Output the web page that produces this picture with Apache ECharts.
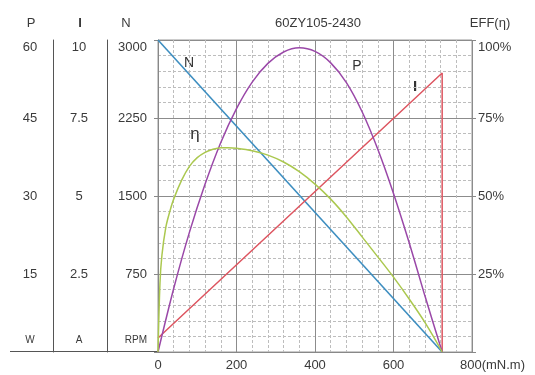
<!DOCTYPE html>
<html>
<head>
<meta charset="utf-8">
<script src="https://cdn.jsdelivr.net/npm/echarts@6/dist/echarts.min.js"></script>
<style>html,body{margin:0;padding:0;background:#fff}#c{width:535px;height:375px}</style>
</head>
<body>
<div id="c"></div>
<script>
// ---- data ----
const xTicks = [0, 200, 400, 600, 800];            // torque, mN.m
const nTicks = [750, 1500, 2250, 3000];            // RPM
const iTicks = [2.5, 5, 7.5, 10];                  // A
const pTicks = [15, 30, 45, 60];                   // W
const effTicks = [25, 50, 75, 100];                // %

const speedTorque = [0, 724];
const speedN = [3000, 0];

const currentTorque = [0, 724, 724];
const currentI = [0.45, 8.94, 0];

const powerTorque = [0, 40, 80, 120, 160, 200, 240, 280, 320, 360, 400, 440, 480, 520, 560, 600, 640, 680, 724];
const powerP = [0, 12.2, 23, 32.3, 40.3, 46.8, 51.9, 55.5, 57.7, 58.5, 57.8, 55.6, 51.8, 46.2, 39, 30.5, 21, 10.8, 0];

const effTorque = [0, 5, 10, 20, 30, 40, 60, 80, 100, 120, 140, 160, 180, 200, 240, 280, 320, 360, 400, 440, 480, 520, 560, 600, 640, 680, 724];
const effV = [0, 22, 31, 40, 45, 49, 55, 59.5, 62.3, 64, 65, 65.5, 65.5, 65.3, 64.5, 63.1, 60.9, 57.8, 53.8, 49, 43.3, 36.9, 30.5, 24, 17, 9.5, 0];

const zip = (a, b) => a.map((v, i) => [v, b[i]]);

const FONT = 'Liberation Sans, Arial, sans-serif';
const TXT = '#3a3a3a';
const chart = echarts.init(document.getElementById('c'), null, {renderer: 'canvas'});

function yFmt(max, unit) {
  return function (v) {
    if (v === 0) return unit ? '{u|' + unit + '}' : '';
    if (v === max) return '{t|' + v + '}';
    return '{n|' + v + '}';
  };
}
const richY = {
  n: {fontSize: 13, color: TXT, fontFamily: FONT},
  t: {fontSize: 13, color: TXT, fontFamily: FONT, padding: [14, 0, 0, 0]},
  u: {fontSize: 10, color: TXT, fontFamily: FONT, padding: [0, 0, 24, 0]}
};

const option = {
  animation: false,
  backgroundColor: '#fff',
  grid: {left: 158, right: 63, top: 40, bottom: 23, show: true, borderColor: '#999', borderWidth: 1},
  xAxis: [
    {type: 'value', min: 0, max: 800, interval: 40, position: 'bottom',
      axisLabel: {show: false}, axisTick: {show: false}, axisLine: {show: false},
      splitLine: {show: true, lineStyle: {color: '#bdbdbd', type: [3, 2], width: 1}}},
    {type: 'value', min: 0, max: 800, interval: 200, position: 'bottom',
      axisLine: {show: true, lineStyle: {color: '#888'}}, axisTick: {show: false},
      splitLine: {show: true, lineStyle: {color: '#8c8c8c', width: 1}},
      axisLabel: {margin: 7, color: TXT, fontSize: 13, fontFamily: FONT,
        formatter: v => v === 800 ? '{a|800}{b|(mN.m)}' : '{n|' + v + '}',
        rich: {n: {fontSize: 13, color: TXT, fontFamily: FONT},
          a: {fontSize: 13, color: TXT, fontFamily: FONT, padding: [0, 0, 0, 41]},
          b: {fontSize: 13, color: TXT, fontFamily: FONT}}}}
  ],
  yAxis: [
    {type: 'value', min: 0, max: 3000, interval: 150, position: 'left',
      axisLabel: {show: false}, axisTick: {show: false}, axisLine: {show: false},
      splitLine: {show: true, lineStyle: {color: '#bdbdbd', type: [3, 2], width: 1}}},
    {type: 'value', min: 0, max: 3000, interval: 750, position: 'left', offset: 0,
      axisLine: {show: true, lineStyle: {color: '#888'}},
      axisTick: {show: true, length: 4, lineStyle: {color: '#888'}},
      splitLine: {show: true, lineStyle: {color: '#8c8c8c', width: 1}},
      axisLabel: {margin: 11, align: 'right', formatter: yFmt(3000, 'RPM'), rich: richY}},
    {type: 'value', min: 0, max: 10, interval: 2.5, position: 'left', offset: 51,
      axisLine: {show: true, lineStyle: {color: '#555'}}, axisTick: {show: false},
      splitLine: {show: false},
      axisLabel: {margin: 28, align: 'center', formatter: yFmt(10, 'A'), rich: richY}},
    {type: 'value', min: 0, max: 60, interval: 15, position: 'left', offset: 105,
      axisLine: {show: true, lineStyle: {color: '#555'}}, axisTick: {show: false},
      splitLine: {show: false},
      axisLabel: {margin: 23, align: 'center', formatter: yFmt(60, 'W'), rich: richY}},
    {type: 'value', min: 0, max: 100, interval: 25, position: 'right',
      axisLine: {show: false},
      axisTick: {show: true, length: 4, lineStyle: {color: '#888'}},
      splitLine: {show: false},
      axisLabel: {margin: 6, align: 'left',
        formatter: v => v === 0 ? '' : (v === 100 ? '{t|' + v + '%}' : '{n|' + v + '%}'), rich: richY}}
  ],
  series: [
    {name: 'N', type: 'line', xAxisIndex: 1, yAxisIndex: 1, data: zip(speedTorque, speedN),
      symbol: 'none', lineStyle: {color: '#3d8ec0', width: 1.6}, z: 5},
    {name: 'I', type: 'line', xAxisIndex: 1, yAxisIndex: 2, data: zip(currentTorque, currentI),
      symbol: 'none', lineStyle: {color: '#dd5560', width: 1.5}, z: 5},
    {name: 'P', type: 'line', xAxisIndex: 1, yAxisIndex: 3, data: zip(powerTorque, powerP),
      symbol: 'none', smooth: 0.3, lineStyle: {color: '#9a48a8', width: 1.5}, z: 5},
    {name: 'EFF', type: 'line', xAxisIndex: 1, yAxisIndex: 4, data: zip(effTorque, effV),
      symbol: 'none', smooth: 0.3, lineStyle: {color: '#abc84f', width: 1.5}, z: 5}
  ],
  graphic: [
    {type: 'line', shape: {x1: 10, y1: 351.5, x2: 158, y2: 351.5}, style: {stroke: '#555', lineWidth: 1}},
    {type: 'text', x: 31, y: 23, style: {text: 'P', fontSize: 13, fill: TXT, fontFamily: FONT, align: 'center', verticalAlign: 'middle'}},
    {type: 'text', x: 80, y: 23, style: {text: 'I', fontSize: 13, fontWeight: 'bold', fill: TXT, fontFamily: FONT, align: 'center', verticalAlign: 'middle'}},
    {type: 'text', x: 126, y: 23, style: {text: 'N', fontSize: 13, fill: TXT, fontFamily: FONT, align: 'center', verticalAlign: 'middle'}},
    {type: 'text', x: 318, y: 23, style: {text: '60ZY105-2430', fontSize: 13, fill: TXT, fontFamily: FONT, align: 'center', verticalAlign: 'middle'}},
    {type: 'text', x: 490, y: 23, style: {text: 'EFF(η)', fontSize: 13, fill: TXT, fontFamily: FONT, align: 'center', verticalAlign: 'middle'}},
    {type: 'text', x: 189, y: 63, style: {text: 'N', fontSize: 14, fill: '#333', fontFamily: FONT, align: 'center', verticalAlign: 'middle'}},
    {type: 'text', x: 357, y: 66, style: {text: 'P', fontSize: 14, fill: '#333', fontFamily: FONT, align: 'center', verticalAlign: 'middle'}},
    {type: 'text', x: 415, y: 87, style: {text: 'I', fontSize: 15, fontWeight: 'bold', fill: '#333', fontFamily: FONT, align: 'center', verticalAlign: 'middle'}},
    {type: 'text', x: 195, y: 134, style: {text: 'η', fontSize: 17, fill: '#333', fontFamily: FONT, align: 'center', verticalAlign: 'middle'}}
  ]
};
chart.setOption(option);
</script>
</body>
</html>
